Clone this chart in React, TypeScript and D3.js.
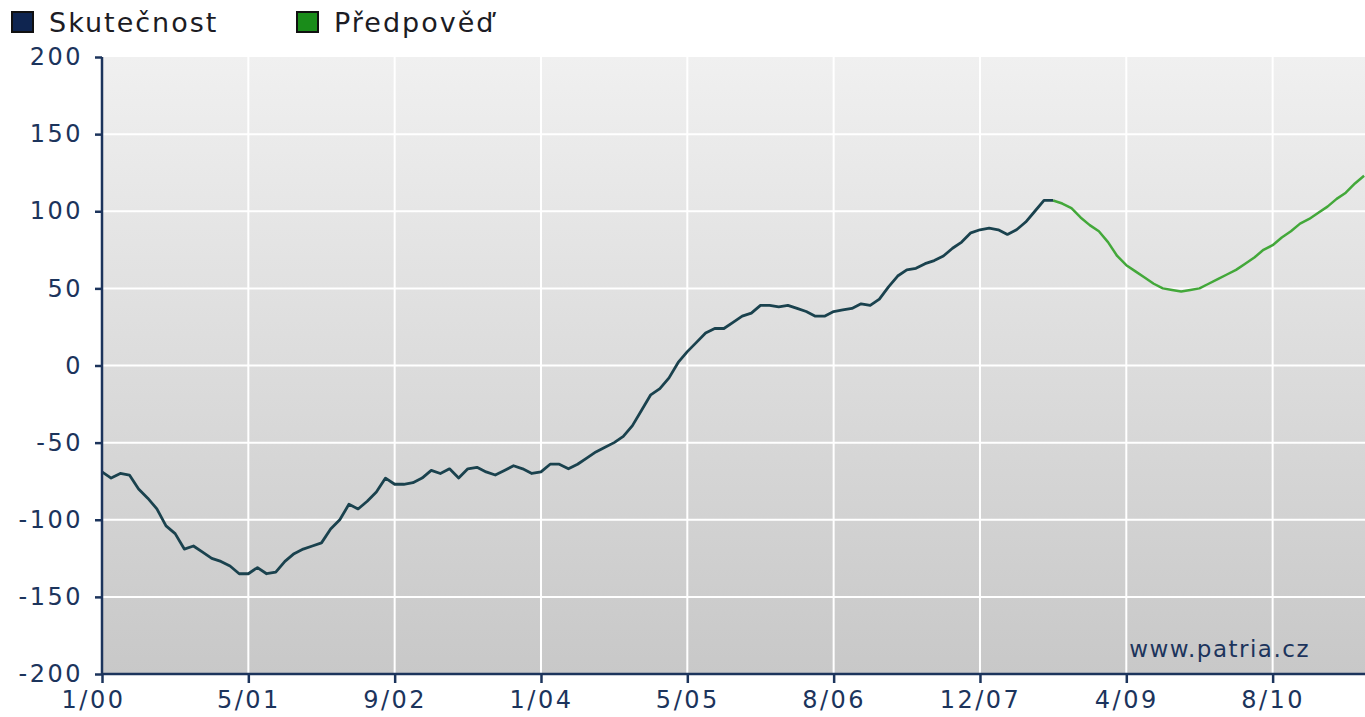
import React, { useEffect, useRef } from "react";
import * as d3 from "d3";

// monthly values, index 0 = 1/00
const actual = [
  -69, -73, -70, -71, -80, -86, -93, -104, -109, -119,
  -117, -121, -125, -127, -130, -135, -135, -131, -135, -134,
  -127, -122, -119, -117, -115, -106, -100, -90, -93, -88,
  -82, -73, -77, -77, -76, -73, -68, -70, -67, -73,
  -67, -66, -69, -71, -68, -65, -67, -70, -69, -64,
  -64, -67, -64, -60, -56, -53, -50, -46, -39, -29,
  -19, -15, -8, 2, 9, 15, 21, 24, 24, 28,
  32, 34, 39, 39, 38, 39, 37, 35, 32, 32,
  35, 36, 37, 40, 39, 43, 51, 58, 62, 63,
  66, 68, 71, 76, 80, 86, 88, 89, 88, 85,
  88, 93, 100, 107, 107,
];

const forecastStart = 104;
const forecast = [
  107, 105, 102, 96, 91, 87, 80, 71, 65, 61,
  57, 53, 50, 49, 48, 49, 50, 53, 56, 59,
  62, 66, 70, 75, 78, 83, 87, 92, 95, 99,
  103, 108, 112, 118, 123,
];

const tickMonths = [0, 16, 32, 48, 64, 80, 96, 112, 128];
const tickLabels = ["1/00", "5/01", "9/02", "1/04", "5/05", "8/06", "12/07", "4/09", "8/10"];
const yTicks = [-200, -150, -100, -50, 0, 50, 100, 150, 200];

const seriesNames = ["Skutečnost", "Předpověď"];
const seriesColors = ["#0f2550", "#1a8c1a"];

export default function App() {
  const svgRef = useRef<SVGSVGElement | null>(null);

  useEffect(() => {
    if (!svgRef.current) return;
    const svg = d3.select(svgRef.current);
    svg.selectAll("*").remove();

    const width = 1365;
    const height = 717;
    const left = 102, right = 1365, top = 57, bottom = 674;
    const font = "'DejaVu Sans', Verdana, sans-serif";
    const axisColor = "#1c345c";

    const x = d3.scaleLinear().domain([0, 138.1]).range([left, right]);
    const y = d3.scaleLinear().domain([-200, 200]).range([bottom, top]);

    svg.attr("width", width).attr("height", height);

    const defs = svg.append("defs");
    const grad = defs
      .append("linearGradient")
      .attr("id", "bg")
      .attr("x1", 0).attr("y1", 0).attr("x2", 0).attr("y2", 1);
    grad.append("stop").attr("offset", "0%").attr("stop-color", "#f0f0f0");
    grad.append("stop").attr("offset", "100%").attr("stop-color", "#c8c8c8");

    svg.append("rect")
      .attr("x", left).attr("y", top)
      .attr("width", right - left).attr("height", bottom - top)
      .attr("fill", "url(#bg)");

    // grid
    const grid = svg.append("g").attr("stroke", "#ffffff").attr("stroke-width", 2);
    grid.selectAll(".gy")
      .data(yTicks.filter((t) => t > -200 && t < 200))
      .enter().append("line")
      .attr("x1", left).attr("x2", right)
      .attr("y1", (d) => y(d)).attr("y2", (d) => y(d));
    grid.selectAll(".gx")
      .data(tickMonths.slice(1))
      .enter().append("line")
      .attr("y1", top).attr("y2", bottom)
      .attr("x1", (d) => x(d)).attr("x2", (d) => x(d));

    // lines
    const line = d3.line<number>().x((d, i) => x(i)).y((d) => y(d));
    const fLine = d3.line<number>().x((d, i) => x(i + forecastStart)).y((d) => y(d));

    svg.append("path")
      .datum(forecast)
      .attr("d", fLine)
      .attr("fill", "none")
      .attr("stroke", "#43a83a")
      .attr("stroke-width", 2.5)
      .attr("stroke-linejoin", "round");

    svg.append("path")
      .datum(actual)
      .attr("d", line)
      .attr("fill", "none")
      .attr("stroke", "#1a424e")
      .attr("stroke-width", 2.8)
      .attr("stroke-linejoin", "round");

    // axes
    const yAxis = svg.append("g")
      .attr("transform", `translate(${left},0)`)
      .call(
        d3.axisLeft(y)
          .tickValues(yTicks)
          .tickFormat((d) => String(d))
          .tickSize(7)
          .tickPadding(12)
      );
    yAxis.select(".domain").attr("stroke", axisColor).attr("stroke-width", 2.5).attr("d", `M0,${top}V${bottom}`);
    yAxis.selectAll(".tick line").attr("stroke", axisColor).attr("stroke-width", 2.5);
    yAxis.selectAll(".tick text")
      .attr("fill", axisColor)
      .style("font-family", font)
      .style("font-size", "24px")
      .style("letter-spacing", "2.5px");

    const xAxis = svg.append("g")
      .attr("transform", `translate(0,${bottom})`)
      .call(
        d3.axisBottom(x)
          .tickValues(tickMonths)
          .tickFormat((d, i) => tickLabels[i])
          .tickSize(9)
          .tickPadding(8)
      );
    xAxis.select(".domain").attr("stroke", axisColor).attr("stroke-width", 2.5).attr("d", `M${left},0H${right}`);
    xAxis.selectAll(".tick line").attr("stroke", axisColor).attr("stroke-width", 2.5);
    xAxis.selectAll(".tick text")
      .attr("fill", axisColor)
      .attr("dx", (d, i) => (i === 0 ? -9 : 0))
      .style("font-family", font)
      .style("font-size", "24px")
      .style("letter-spacing", "2.5px");

    // legend
    const legendX = [12, 297];
    const legend = svg.append("g");
    seriesNames.forEach((name, i) => {
      legend.append("rect")
        .attr("x", legendX[i]).attr("y", 12)
        .attr("width", 21).attr("height", 20)
        .attr("fill", seriesColors[i])
        .attr("stroke", "#111").attr("stroke-width", 2);
      legend.append("text")
        .attr("x", legendX[i] + 37).attr("y", 32)
        .attr("fill", "#1c1c24")
        .style("font-family", font)
        .style("font-size", "27px")
        .style("letter-spacing", "2px")
        .text(name);
    });

    svg.append("text")
      .attr("x", 1310).attr("y", 657)
      .attr("text-anchor", "end")
      .attr("fill", axisColor)
      .style("font-family", font)
      .style("font-size", "23px")
      .style("letter-spacing", "1.5px")
      .text("www.patria.cz");
  }, []);

  return (
    <div style={{ position: "fixed", left: 0, top: 0, background: "#fff" }}>
      <svg ref={svgRef} width={1365} height={717} style={{ display: "block" }}></svg>
    </div>
  );
}
